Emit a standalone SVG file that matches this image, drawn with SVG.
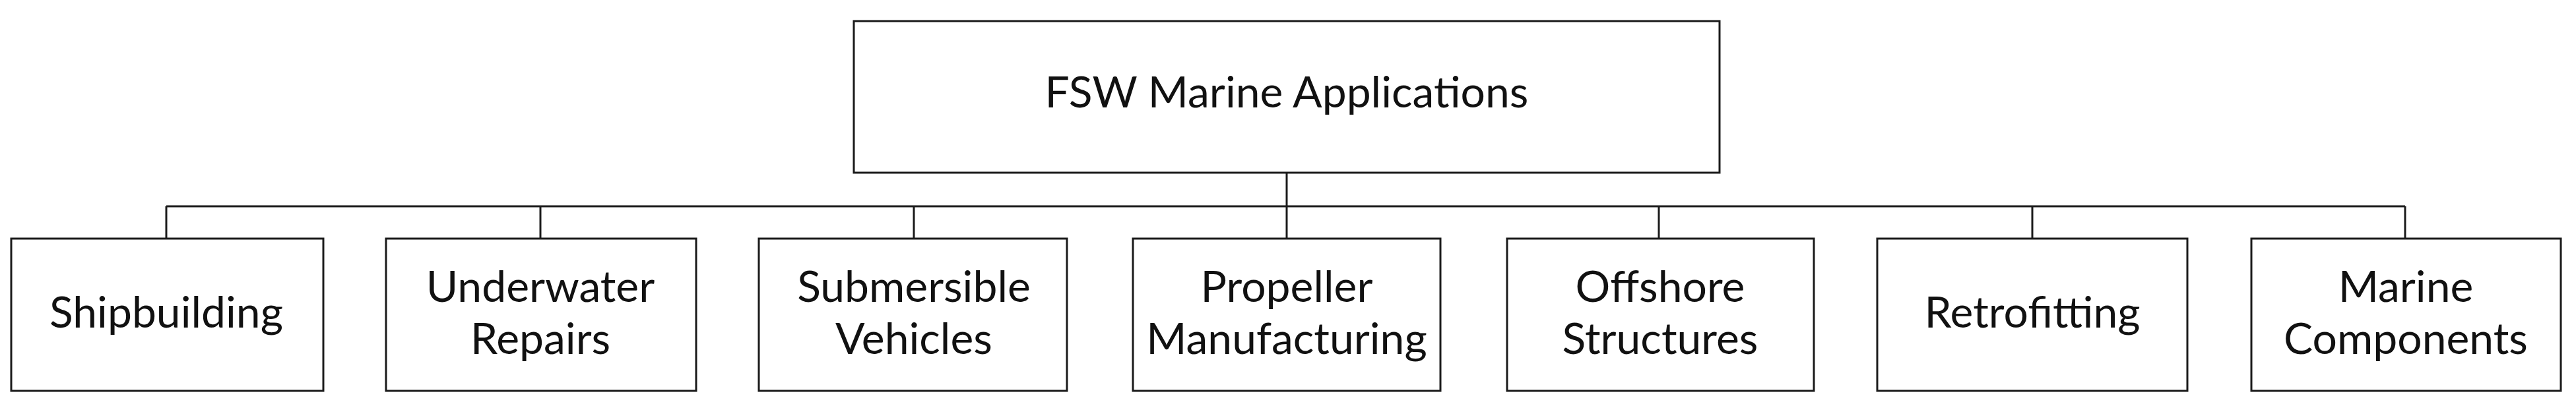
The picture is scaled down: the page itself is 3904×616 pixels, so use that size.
<svg xmlns="http://www.w3.org/2000/svg" width="3904" height="616" viewBox="0 0 3904 616">
<style>
.box{fill:#fff;stroke:#1a1a1a;stroke-width:3}
.ln{stroke:#1a1a1a;stroke-width:3;fill:none}
text{font-family:Lato,"Open Sans",sans-serif;font-size:66px;fill:#111;text-anchor:middle}
</style>
<rect width="3904" height="616" fill="#fff"/>
<g id="connectors">
<line class="ln" x1="1950" y1="262" x2="1950" y2="313"/>
<line class="ln" x1="252" y1="313" x2="3645" y2="313"/>
<line class="ln" x1="252" y1="313" x2="252" y2="362"/>
<line class="ln" x1="819" y1="313" x2="819" y2="362"/>
<line class="ln" x1="1385" y1="313" x2="1385" y2="362"/>
<line class="ln" x1="1950" y1="313" x2="1950" y2="362"/>
<line class="ln" x1="2514" y1="313" x2="2514" y2="362"/>
<line class="ln" x1="3080" y1="313" x2="3080" y2="362"/>
<line class="ln" x1="3645" y1="313" x2="3645" y2="362"/>
</g>
<g id="root"><rect class="box" x="1294" y="32" width="1312" height="230"/><text x="1950" y="163">FSW Marine Applications</text></g>
<g id="n1"><rect class="box" x="17" y="362" width="473" height="231"/><text x="252" y="497">Shipbuilding</text></g>
<g id="n2"><rect class="box" x="585" y="362" width="470" height="231"/><text x="819" y="458">Underwater</text><text x="819" y="537">Repairs</text></g>
<g id="n3"><rect class="box" x="1150" y="362" width="467" height="231"/><text x="1385" y="458">Submersible</text><text x="1385" y="537">Vehicles</text></g>
<g id="n4"><rect class="box" x="1717" y="362" width="466" height="231"/><text x="1950" y="458">Propeller</text><text x="1950" y="537">Manufacturing</text></g>
<g id="n5"><rect class="box" x="2284" y="362" width="465" height="231"/><text x="2516" y="458">Offshore</text><text x="2516" y="537">Structures</text></g>
<g id="n6"><rect class="box" x="2845" y="362" width="470" height="231"/><text x="3080" y="497">Retrofitting</text></g>
<g id="n7"><rect class="box" x="3412" y="362" width="469" height="231"/><text x="3646" y="458">Marine</text><text x="3646" y="537">Components</text></g>
</svg>
